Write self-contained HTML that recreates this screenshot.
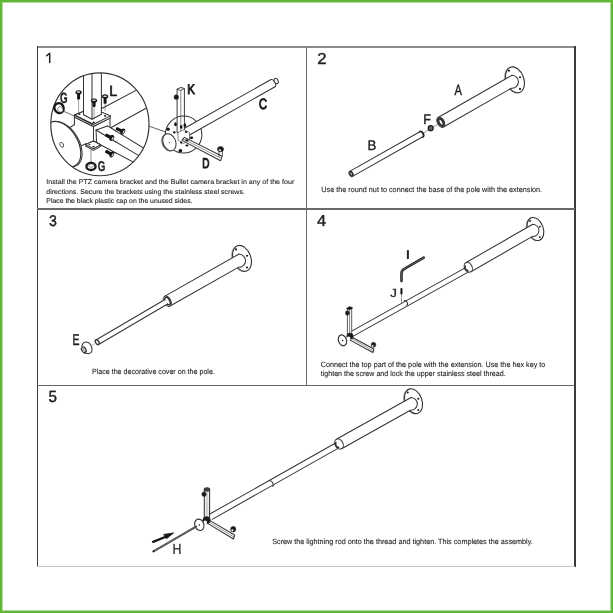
<!DOCTYPE html>
<html><head><meta charset="utf-8"><style>
html,body{margin:0;padding:0;background:#fff;}
body{width:613px;height:613px;overflow:hidden;position:relative;font-family:"Liberation Sans",sans-serif;}
#frame{position:absolute;left:0;top:0;width:613px;height:613px;box-sizing:border-box;border:2px solid #60b834;}
#frame2{position:absolute;left:2px;top:2px;width:609px;height:609px;box-sizing:border-box;border:0.5px solid #b5dca0;}
.b{position:absolute;}
svg{position:absolute;left:0;top:0;will-change:transform;text-rendering:geometricPrecision;}
text{font-family:"Liberation Sans",sans-serif;}
</style></head><body>
<div id="frame"></div><div id="frame2"></div>
<div class="b" style="left:37px;top:45.9px;width:539px;height:2.1px;background:#8c8c8c;"></div>
<div class="b" style="left:37px;top:46px;width:1.2px;height:520.8px;background:#3c3c3c;"></div>
<div class="b" style="left:574.1px;top:46px;width:2px;height:520.8px;background:#3a3a3a;"></div>
<div class="b" style="left:37px;top:566px;width:538px;height:0.9px;background:#c4c4c4;"></div>
<div class="b" style="left:37px;top:208.2px;width:538px;height:1.5px;background:#6a6a6a;"></div>
<div class="b" style="left:37px;top:384.7px;width:538px;height:1.5px;background:#666;"></div>
<div class="b" style="left:305.7px;top:47px;width:1.4px;height:338.5px;background:#6e6e6e;"></div>
<svg width="613" height="613" viewBox="0 0 613 613">
<path d="M422.5,133.6 L437,124.8" stroke="#777" stroke-width="0.8" fill="none" stroke-linecap="round" stroke-linejoin="round" />
<ellipse cx="514.10" cy="80.10" rx="8.80" ry="13.40" transform="rotate(-20.00 514.10 80.10)" stroke="#777" stroke-width="0.7" fill="#fff"/>
<ellipse cx="515.00" cy="79.80" rx="8.80" ry="13.40" transform="rotate(-20.00 515.00 79.80)" stroke="#333" stroke-width="1.1" fill="#fff"/>
<circle cx="509.00" cy="70.80" r="1.05" fill="#1a1a1a"/>
<circle cx="520.00" cy="77.20" r="1.05" fill="#1a1a1a"/>
<circle cx="520.00" cy="88.90" r="1.05" fill="#1a1a1a"/>
<path d="M438.07,117.53 L511.99,75.22 A6.88,6.54 3.01 0 1 511.31,88.28 L443.53,127.07 Z" fill="#fff" stroke="none"/>
<path d="M438.07,117.53 L511.99,75.22 A6.88,6.54 3.01 0 1 511.31,88.28 L443.53,127.07" fill="none" stroke="#333" stroke-width="1.03" stroke-linejoin="round"/>
<ellipse cx="440.80" cy="122.30" rx="3.41" ry="5.50" transform="rotate(-29.78 440.80 122.30)" stroke="#333" stroke-width="1.03" fill="#fff"/>
<ellipse cx="440.97" cy="122.20" rx="2.11" ry="3.96" transform="rotate(-29.78 440.97 122.20)" stroke="#333" stroke-width="2.4" fill="#fff"/>
<path d="M422.73,136.72 A1.80,2.90 -29.49 0 0 419.87,131.68 L349.67,171.38 L352.53,176.42 Z" fill="#fff" stroke="none"/>
<path d="M422.73,136.72 A1.80,2.90 -29.49 0 0 419.87,131.68" fill="none" stroke="#333" stroke-width="1.03"/>
<line x1="352.53" y1="176.42" x2="422.73" y2="136.72" stroke="#333" stroke-width="1.03" stroke-linecap="round"/>
<line x1="349.67" y1="171.38" x2="419.87" y2="131.68" stroke="#333" stroke-width="1.03" stroke-linecap="round"/>
<ellipse cx="351.10" cy="173.90" rx="1.80" ry="2.90" transform="rotate(-29.49 351.10 173.90)" stroke="#333" stroke-width="1.03" fill="#fff"/>
<ellipse cx="351.27" cy="173.80" rx="1.11" ry="2.09" transform="rotate(-29.49 351.27 173.80)" stroke="#333" stroke-width="1.5" fill="#fff"/>
<path d="M419.6,131.6 A1.8,2.9 -29.5 0 1 423.1,136.9" stroke="#222" stroke-width="1.6" fill="none" stroke-linecap="round" stroke-linejoin="round" />
<ellipse cx="430.70" cy="128.20" rx="2.40" ry="2.50" transform="rotate(0.00 430.70 128.20)" stroke="#1a1a1a" stroke-width="1.3" fill="#666"/>
<text transform="translate(454.45,95.03) scale(0.7368,1)" font-size="15.04" font-weight="normal" fill="#1e1e1e" stroke="#1e1e1e" stroke-width="0.48">A</text>
<text transform="translate(423.34,124.12) scale(0.9065,1)" font-size="13.88" font-weight="normal" fill="#1e1e1e" stroke="#1e1e1e" stroke-width="0.39">F</text>
<text transform="translate(367.59,149.82) scale(0.9644,1)" font-size="13.74" font-weight="normal" fill="#1e1e1e" stroke="#1e1e1e" stroke-width="0.36">B</text>
<ellipse cx="241.10" cy="258.70" rx="8.80" ry="13.40" transform="rotate(-20.00 241.10 258.70)" stroke="#777" stroke-width="0.7" fill="#fff"/>
<ellipse cx="242.00" cy="258.40" rx="8.80" ry="13.40" transform="rotate(-20.00 242.00 258.40)" stroke="#333" stroke-width="1.1" fill="#fff"/>
<circle cx="236.00" cy="249.40" r="1.05" fill="#1a1a1a"/>
<circle cx="247.00" cy="255.80" r="1.05" fill="#1a1a1a"/>
<circle cx="247.00" cy="267.50" r="1.05" fill="#1a1a1a"/>
<path d="M164.54,296.33 L239.00,254.06 A7.00,6.65 3.02 0 1 238.30,267.34 L170.06,306.07 Z" fill="#fff" stroke="none"/>
<path d="M164.54,296.33 L239.00,254.06 A7.00,6.65 3.02 0 1 238.30,267.34 L170.06,306.07" fill="none" stroke="#333" stroke-width="1.03" stroke-linejoin="round"/>
<ellipse cx="167.30" cy="301.20" rx="3.47" ry="5.60" transform="rotate(-29.58 167.30 301.20)" stroke="#333" stroke-width="1.03" fill="#fff"/>
<ellipse cx="167.47" cy="301.10" rx="2.15" ry="4.03" transform="rotate(-29.58 167.47 301.10)" stroke="#333" stroke-width="1.5" fill="#fff"/>
<path d="M98.56,344.44 L167.61,304.04 L164.99,299.56 L95.94,339.96 Z" stroke="none" stroke-width="0.0" fill="#fff" stroke-linejoin="round"/>
<line x1="98.56" y1="344.44" x2="167.61" y2="304.04" stroke="#333" stroke-width="1.03" stroke-linecap="round"/>
<line x1="95.94" y1="339.96" x2="164.99" y2="299.56" stroke="#333" stroke-width="1.03" stroke-linecap="round"/>
<ellipse cx="97.25" cy="342.20" rx="1.61" ry="2.60" transform="rotate(-30.33 97.25 342.20)" stroke="#333" stroke-width="1.4" fill="#fff"/>
<path d="M82.2,347.2 C81.6,345.4 82.6,342.4 85.8,342.0 C89.4,341.9 91.9,345.6 92.0,349.4 C92.0,352.2 90.4,353.8 87.6,353.6 C85.8,353.5 84.4,353.1 83.6,352.8" stroke="#333" stroke-width="1.03" fill="#fff" stroke-linecap="round" stroke-linejoin="round" />
<ellipse cx="83.80" cy="349.70" rx="2.10" ry="3.00" transform="rotate(-30.00 83.80 349.70)" stroke="#222" stroke-width="1.1" fill="#fff"/>
<ellipse cx="84.20" cy="349.60" rx="1.00" ry="1.70" transform="rotate(-30.00 84.20 349.60)" stroke="#444" stroke-width="0.6" fill="#fff"/>
<line x1="91.50" y1="345.60" x2="95.50" y2="343.40" stroke="#888" stroke-width="0.5" stroke-linecap="round"/>
<text transform="translate(72.39,345.15) scale(0.6699,1)" font-size="15.70" font-weight="normal" fill="#1e1e1e" stroke="#1e1e1e" stroke-width="0.45">E</text>
<path d="M353.77,335.87 L468.57,271.87 L466.03,267.33 L351.23,331.33 Z" stroke="none" stroke-width="0.0" fill="#fff" stroke-linejoin="round"/>
<line x1="353.77" y1="335.87" x2="468.57" y2="271.87" stroke="#333" stroke-width="1.03" stroke-linecap="round"/>
<line x1="351.23" y1="331.33" x2="466.03" y2="267.33" stroke="#333" stroke-width="1.03" stroke-linecap="round"/>
<ellipse cx="534.60" cy="229.30" rx="7.83" ry="11.93" transform="rotate(-20.00 534.60 229.30)" stroke="#777" stroke-width="0.7" fill="#fff"/>
<ellipse cx="535.40" cy="229.00" rx="7.83" ry="11.93" transform="rotate(-20.00 535.40 229.00)" stroke="#333" stroke-width="1.1" fill="#fff"/>
<circle cx="530.06" cy="220.99" r="0.93" fill="#1a1a1a"/>
<circle cx="539.85" cy="226.69" r="0.93" fill="#1a1a1a"/>
<circle cx="539.85" cy="237.10" r="0.93" fill="#1a1a1a"/>
<path d="M465.71,262.79 L532.78,224.21 A6.50,6.19 3.01 0 1 532.12,236.59 L470.89,271.81 Z" fill="#fff" stroke="none"/>
<path d="M465.71,262.79 L532.78,224.21 A6.50,6.19 3.01 0 1 532.12,236.59 L470.89,271.81" fill="none" stroke="#333" stroke-width="1.03" stroke-linejoin="round"/>
<ellipse cx="468.30" cy="267.30" rx="3.74" ry="5.20" transform="rotate(-29.91 468.30 267.30)" stroke="#333" stroke-width="1.03" fill="#fff"/>
<path d="M465.76,265.76 A1.95,2.60 -29.91 0 0 468.35,270.27" fill="none" stroke="#333" stroke-width="1.7"/>
<path d="M404.2,300.6 A1.6,2.6 -29 0 1 406.8,305.2" stroke="#333" stroke-width="1.03" fill="none" stroke-linecap="round" stroke-linejoin="round" />
<line x1="401.50" y1="294.40" x2="401.50" y2="303.40" stroke="#555" stroke-width="0.6" stroke-linecap="round"/>
<rect x="400.4" y="288" width="2.1" height="6.4" rx="0.9" fill="#1a1a1a"/>
<path d="M401.5,281.1 L401.5,273.4 Q401.5,270.2 404.8,268.6 L423.7,257.7" stroke="#1f1f1f" stroke-width="2.6" fill="none" stroke-linecap="round" stroke-linejoin="round" />
<path d="M401.5,281.1 L401.5,273.4 Q401.5,270.2 404.8,268.6 L423.7,257.7" stroke="#555" stroke-width="1.15" fill="none" stroke-linecap="round" stroke-linejoin="round" />
<text transform="translate(405.17,259.15) scale(1.5263,1)" font-size="12.65" font-weight="normal" fill="#1e1e1e" stroke="#1e1e1e" stroke-width="0.2">I</text>
<text transform="translate(390.27,297.21) scale(1.1376,1)" font-size="11.68" font-weight="normal" fill="#1e1e1e" stroke="#1e1e1e" stroke-width="0.31">J</text>
<path d="M347.40,308.60 L349.60,307.20 L351.70,307.80 L351.70,334.00 L347.40,334.00 Z" stroke="#333" stroke-width="0.8" fill="#fff" stroke-linejoin="round"/>
<line x1="349.60" y1="308.60" x2="349.60" y2="334.00" stroke="#333" stroke-width="0.6" stroke-linecap="round"/>
<path d="M347.1,308.6 L349.6,307.2 L352,307.8 L349.6,309.3 Z" stroke="#1a1a1a" stroke-width="1.4" fill="#1a1a1a" stroke-linecap="round" stroke-linejoin="round" />
<ellipse cx="347.40" cy="313.00" rx="2.00" ry="2.20" transform="rotate(0.00 347.40 313.00)" stroke="#333" stroke-width="0.6" fill="#1a1a1a"/>
<path d="M349.80,336.00 L373.90,349.00 L372.90,352.50 L349.20,339.60 Z" stroke="#333" stroke-width="1.03" fill="#fff" stroke-linejoin="round"/>
<line x1="350.00" y1="337.80" x2="373.40" y2="350.80" stroke="#333" stroke-width="0.5" stroke-linecap="round"/>
<ellipse cx="373.50" cy="344.80" rx="2.30" ry="2.50" transform="rotate(0.00 373.50 344.80)" stroke="#333" stroke-width="0.7" fill="#1a1a1a"/>
<ellipse cx="372.80" cy="345.90" rx="0.90" ry="0.90" transform="rotate(0.00 372.80 345.90)" stroke="none" stroke-width="0.0" fill="#fff"/>
<ellipse cx="350.00" cy="336.20" rx="3.30" ry="3.20" transform="rotate(0.00 350.00 336.20)" stroke="#333" stroke-width="0.5" fill="#1a1a1a"/>
<ellipse cx="348.60" cy="338.40" rx="1.80" ry="2.00" transform="rotate(0.00 348.60 338.40)" stroke="none" stroke-width="0.0" fill="#fff"/>
<ellipse cx="342.50" cy="340.30" rx="4.00" ry="5.50" transform="rotate(-20.00 342.50 340.30)" stroke="#333" stroke-width="1.15" fill="#fff"/>
<circle cx="342.6" cy="340.5" r="0.75" fill="#1a1a1a"/>
<path d="M212.22,519.33 L338.42,448.13 L335.58,443.07 L209.38,514.27 Z" stroke="none" stroke-width="0.0" fill="#fff" stroke-linejoin="round"/>
<line x1="212.22" y1="519.33" x2="338.42" y2="448.13" stroke="#333" stroke-width="1.03" stroke-linecap="round"/>
<line x1="209.38" y1="514.27" x2="335.58" y2="443.07" stroke="#333" stroke-width="1.03" stroke-linecap="round"/>
<ellipse cx="412.64" cy="401.50" rx="8.45" ry="12.86" transform="rotate(-20.00 412.64 401.50)" stroke="#777" stroke-width="0.7" fill="#fff"/>
<ellipse cx="413.50" cy="401.20" rx="8.45" ry="12.86" transform="rotate(-20.00 413.50 401.20)" stroke="#333" stroke-width="1.1" fill="#fff"/>
<circle cx="407.74" cy="392.56" r="1.01" fill="#1a1a1a"/>
<circle cx="418.30" cy="398.70" r="1.01" fill="#1a1a1a"/>
<circle cx="418.30" cy="409.94" r="1.01" fill="#1a1a1a"/>
<path d="M336.36,439.29 L411.04,397.47 A6.75,6.39 3.03 0 1 410.36,410.23 L341.64,448.71 Z" fill="#fff" stroke="none"/>
<path d="M336.36,439.29 L411.04,397.47 A6.75,6.39 3.03 0 1 410.36,410.23 L341.64,448.71" fill="none" stroke="#333" stroke-width="1.03" stroke-linejoin="round"/>
<ellipse cx="339.00" cy="444.00" rx="3.89" ry="5.40" transform="rotate(-29.25 339.00 444.00)" stroke="#333" stroke-width="1.03" fill="#fff"/>
<path d="M336.39,442.14 A2.17,2.90 -29.25 0 0 339.22,447.20" fill="none" stroke="#333" stroke-width="1.7"/>
<path d="M269.9,480.9 A1.6,2.9 -29 0 1 272.6,486.3" stroke="#333" stroke-width="1.03" fill="none" stroke-linecap="round" stroke-linejoin="round" />
<path d="M204.30,489.50 L209.60,489.50 L209.60,518.00 L204.30,518.00 Z" stroke="#333" stroke-width="1.03" fill="#ececec" stroke-linejoin="round"/>
<line x1="207.00" y1="490.00" x2="207.00" y2="518.00" stroke="#888" stroke-width="0.5" stroke-linecap="round"/>
<ellipse cx="207.00" cy="489.40" rx="2.65" ry="1.50" transform="rotate(0.00 207.00 489.40)" stroke="#333" stroke-width="1.15" fill="#444"/>
<ellipse cx="204.00" cy="494.20" rx="2.20" ry="2.30" transform="rotate(0.00 204.00 494.20)" stroke="#333" stroke-width="0.6" fill="#1a1a1a"/>
<path d="M208.40,519.60 L234.60,535.00 L233.50,539.00 L207.60,523.40 Z" stroke="#333" stroke-width="1.03" fill="#fff" stroke-linejoin="round"/>
<line x1="208.20" y1="521.60" x2="234.00" y2="537.00" stroke="#333" stroke-width="0.5" stroke-linecap="round"/>
<ellipse cx="233.20" cy="529.20" rx="2.60" ry="2.80" transform="rotate(0.00 233.20 529.20)" stroke="#333" stroke-width="0.7" fill="#1a1a1a"/>
<ellipse cx="232.40" cy="530.30" rx="1.10" ry="1.10" transform="rotate(0.00 232.40 530.30)" stroke="none" stroke-width="0.0" fill="#fff"/>
<ellipse cx="206.60" cy="520.20" rx="3.80" ry="3.60" transform="rotate(0.00 206.60 520.20)" stroke="#333" stroke-width="0.5" fill="#1a1a1a"/>
<ellipse cx="205.20" cy="522.60" rx="1.80" ry="2.00" transform="rotate(0.00 205.20 522.60)" stroke="none" stroke-width="0.0" fill="#fff"/>
<line x1="153.50" y1="551.30" x2="196.00" y2="526.60" stroke="#4a4a4a" stroke-width="2.1" stroke-linecap="round"/>
<line x1="154" y1="551" x2="195" y2="527" stroke="#9a9a9a" stroke-width="0.8" stroke-dasharray="0.6 0.9"/>
<circle cx="153.6" cy="551.2" r="1.0" fill="#222"/>
<ellipse cx="199.30" cy="524.80" rx="4.50" ry="5.80" transform="rotate(-20.00 199.30 524.80)" stroke="#333" stroke-width="1.15" fill="none"/>
<circle cx="199.3" cy="525" r="0.75" fill="#1a1a1a"/>
<line x1="153.10" y1="541.90" x2="167.00" y2="536.20" stroke="#161616" stroke-width="2.3" stroke-linecap="round"/>
<path d="M164.0,534.4 L173.7,532.9 L166.6,538.6 Z" stroke="#161616" stroke-width="0.8" fill="#161616" stroke-linecap="round" stroke-linejoin="round" />
<text transform="translate(172.39,553.50) scale(0.8414,1)" font-size="14.68" font-weight="normal" fill="#1e1e1e" stroke="#1e1e1e" stroke-width="0.24">H</text>
<ellipse cx="183.60" cy="134.60" rx="18.30" ry="18.50" transform="rotate(0.00 183.60 134.60)" stroke="#333" stroke-width="1.03" fill="none"/>
<line x1="149.30" y1="126.30" x2="165.70" y2="132.00" stroke="#333" stroke-width="0.8" stroke-linecap="round"/>
<path d="M274.64,87.02 A2.57,4.15 -29.38 0 0 270.56,79.78 L184.96,127.98 L189.04,135.22 Z" fill="#fff" stroke="none"/>
<path d="M274.64,87.02 A2.57,4.15 -29.38 0 0 270.56,79.78" fill="none" stroke="#333" stroke-width="1.03"/>
<line x1="189.04" y1="135.22" x2="274.64" y2="87.02" stroke="#333" stroke-width="1.03" stroke-linecap="round"/>
<line x1="184.96" y1="127.98" x2="270.56" y2="79.78" stroke="#333" stroke-width="1.03" stroke-linecap="round"/>
<ellipse cx="276.20" cy="81.00" rx="1.90" ry="2.90" transform="rotate(-25.00 276.20 81.00)" stroke="#333" stroke-width="1.03" fill="#fff"/>
<path d="M177.10,89.20 L180.80,87.60 L184.40,88.60 L184.40,132.80 L177.10,132.80 Z" stroke="#333" stroke-width="0.98" fill="none" stroke-linejoin="round"/>
<line x1="180.80" y1="89.40" x2="180.80" y2="132.50" stroke="#333" stroke-width="0.6" stroke-linecap="round"/>
<path d="M177.1,89.2 L180.8,87.6 L184.4,88.6 L180.8,90.3 Z" stroke="#333" stroke-width="0.8" fill="#fff" stroke-linecap="round" stroke-linejoin="round" />
<ellipse cx="176.30" cy="97.20" rx="2.30" ry="2.40" transform="rotate(0.00 176.30 97.20)" stroke="#333" stroke-width="0.6" fill="#1a1a1a"/>
<path d="M178.00,132.50 L184.00,129.60 L189.50,132.60 L189.50,140.00 L183.50,143.50 L178.00,140.20 Z" stroke="#333" stroke-width="0.6" fill="#fff" stroke-linejoin="round"/>
<path d="M184.40,137.40 L222.20,156.20 L220.60,160.80 L182.00,140.40 Z" stroke="#333" stroke-width="1.03" fill="#fff" stroke-linejoin="round"/>
<line x1="183.20" y1="138.90" x2="221.40" y2="158.50" stroke="#333" stroke-width="0.5" stroke-linecap="round"/>
<ellipse cx="220.50" cy="149.20" rx="3.00" ry="2.60" transform="rotate(0.00 220.50 149.20)" stroke="#333" stroke-width="0.8" fill="#1a1a1a"/>
<ellipse cx="219.80" cy="150.20" rx="1.20" ry="1.00" transform="rotate(0.00 219.80 150.20)" stroke="none" stroke-width="0.0" fill="#fff"/>
<line x1="219.00" y1="150.50" x2="219.00" y2="156.60" stroke="#333" stroke-width="0.8" stroke-linecap="round"/>
<line x1="222.40" y1="150.00" x2="222.40" y2="156.00" stroke="#333" stroke-width="0.8" stroke-linecap="round"/>
<ellipse cx="168.50" cy="142.50" rx="6.30" ry="8.80" transform="rotate(-22.00 168.50 142.50)" stroke="#333" stroke-width="0.8" fill="#fff"/>
<ellipse cx="169.40" cy="142.20" rx="6.30" ry="8.80" transform="rotate(-22.00 169.40 142.20)" stroke="#333" stroke-width="1.03" fill="#fff"/>
<circle cx="169.4" cy="142.6" r="0.6" fill="#333"/>
<ellipse cx="175.5" cy="124.2" rx="1.3" ry="2.0" fill="#151515"/>
<ellipse cx="181.2" cy="126.9" rx="1.3" ry="1.9" fill="#151515"/>
<ellipse cx="184.9" cy="125.2" rx="1.3" ry="1.9" fill="#151515"/>
<ellipse cx="168.1" cy="129.2" rx="1.7" ry="1.6" fill="#151515"/>
<ellipse cx="174.3" cy="132.4" rx="1.4" ry="1.1" fill="#151515"/>
<ellipse cx="186.1" cy="132.0" rx="1.3" ry="1.1" fill="#151515"/>
<ellipse cx="191.4" cy="137.7" rx="1.8" ry="1.2" fill="#151515"/>
<ellipse cx="186.9" cy="140.4" rx="1.6" ry="1.1" fill="#151515"/>
<ellipse cx="186.9" cy="145.5" rx="1.6" ry="1.1" fill="#151515"/>
<ellipse cx="181.2" cy="142.6" rx="1.2" ry="1.1" fill="#151515"/>
<ellipse cx="180.4" cy="150.7" rx="1.9" ry="1.6" fill="#151515"/>
<text transform="translate(187.31,93.65) scale(0.8244,1)" font-size="13.95" font-weight="normal" fill="#1e1e1e" stroke="#1e1e1e" stroke-width="0.98">K</text>
<text transform="translate(259.09,109.20) scale(0.7314,1)" font-size="15.11" font-weight="normal" fill="#1e1e1e" stroke="#1e1e1e" stroke-width="1.1">C</text>
<text transform="translate(202.13,167.75) scale(0.7139,1)" font-size="13.95" font-weight="normal" fill="#1e1e1e" stroke="#1e1e1e" stroke-width="1.13">D</text>
<clipPath id="bc"><ellipse cx="99.9" cy="124.3" rx="49.1" ry="51.4"/></clipPath>
<g clip-path="url(#bc)">
<path d="M101.80,108.50 L160.00,77.65 L160.00,100.66 L111.20,127.50 Z" stroke="none" stroke-width="0.0" fill="#fff" stroke-linejoin="round"/>
<line x1="101.80" y1="108.50" x2="160.00" y2="77.65" stroke="#333" stroke-width="1.03" stroke-linecap="round"/>
<line x1="111.20" y1="127.50" x2="160.00" y2="100.66" stroke="#333" stroke-width="1.03" stroke-linecap="round"/>
<path d="M107.50,125.90 L160.00,158.19 L160.00,176.25 L96.50,142.60 L96.10,130.00 Z" stroke="none" stroke-width="0.0" fill="#fff" stroke-linejoin="round"/>
<line x1="107.50" y1="125.90" x2="160.00" y2="158.19" stroke="#333" stroke-width="1.03" stroke-linecap="round"/>
<line x1="96.10" y1="130.00" x2="160.00" y2="168.34" stroke="#333" stroke-width="1.03" stroke-linecap="round"/>
<line x1="96.50" y1="142.60" x2="160.00" y2="176.25" stroke="#333" stroke-width="1.03" stroke-linecap="round"/>
<path d="M93.50,126.50 L110.00,118.00 L110.00,139.50 L93.50,148.00 Z" stroke="#333" stroke-width="1.03" fill="#fff" stroke-linejoin="round"/>
<path d="M74.40,117.00 L93.50,126.50 L93.50,148.00 L74.40,138.50 Z" stroke="#333" stroke-width="1.03" fill="#fff" stroke-linejoin="round"/>
<path d="M107.50,125.90 L115.00,130.50 L115.00,152.41 L96.50,142.60 L96.10,130.00 Z" stroke="none" stroke-width="0.0" fill="#fff" stroke-linejoin="round"/>
<line x1="107.50" y1="125.90" x2="116.00" y2="131.13" stroke="#333" stroke-width="1.03" stroke-linecap="round"/>
<line x1="96.10" y1="130.00" x2="116.00" y2="141.94" stroke="#333" stroke-width="1.03" stroke-linecap="round"/>
<line x1="96.50" y1="142.60" x2="116.00" y2="152.94" stroke="#333" stroke-width="1.03" stroke-linecap="round"/>
<line x1="96.10" y1="130.00" x2="107.50" y2="125.90" stroke="#333" stroke-width="1.03" stroke-linecap="round"/>
<line x1="96.10" y1="130.00" x2="96.50" y2="142.60" stroke="#333" stroke-width="1.03" stroke-linecap="round"/>
<path d="M74.50,115.10 L74.50,117.10 L93.20,126.50 L110.40,117.90 L110.40,115.90 L92.00,108.10 Z" stroke="#333" stroke-width="1.03" fill="#fff" stroke-linejoin="round"/>
<path d="M74.50,115.10 L93.20,124.50 L110.40,115.90 L92.00,108.10 Z" stroke="#333" stroke-width="1.03" fill="#fff" stroke-linejoin="round"/>
<line x1="74.50" y1="115.10" x2="93.20" y2="124.50" stroke="#333" stroke-width="1.5" stroke-linecap="round"/>
<ellipse cx="79.4" cy="114.3" rx="1.2" ry="0.8" fill="#1a1a1a"/>
<ellipse cx="93.7" cy="122.4" rx="1.2" ry="0.8" fill="#1a1a1a"/>
<ellipse cx="105.1" cy="115.9" rx="1.2" ry="0.8" fill="#1a1a1a"/>
<path d="M83.50,60.00 L101.40,60.00 L101.40,114.30 L92.00,119.20 L83.50,114.70 Z" stroke="#333" stroke-width="1.03" fill="#fff" stroke-linejoin="round"/>
<line x1="92.00" y1="60.00" x2="92.00" y2="119.20" stroke="#333" stroke-width="1.03" stroke-linecap="round"/>
<path d="M85.70,144.40 L85.70,146.00 L93.50,150.40 L100.60,146.40 L100.60,144.80 L93.50,141.00 Z" stroke="#333" stroke-width="1.03" fill="#fff" stroke-linejoin="round"/>
<path d="M85.70,144.40 L93.50,148.80 L100.60,144.80 L93.50,141.00 Z" stroke="#333" stroke-width="1.03" fill="#fff" stroke-linejoin="round"/>
<ellipse cx="93.6" cy="146.6" rx="1.1" ry="0.8" fill="#1a1a1a"/>
<ellipse cx="89.5" cy="144.4" rx="0.9" ry="0.7" fill="#1a1a1a"/>
<path d="M69.50,127.60 L77.40,123.40 L74.40,124.50 L86.20,143.60 L79.80,146.60 Z" stroke="none" stroke-width="0.0" fill="#fff" stroke-linejoin="round"/>
<path d="M69,128 L74.4,124.6 L74.4,123.8 M79.8,146.5 L86.4,143.4" stroke="#333" stroke-width="1.03" fill="none"/>
<ellipse cx="64.00" cy="144.30" rx="15.06" ry="24.80" transform="rotate(-30.80 64.00 144.30)" stroke="#333" stroke-width="1.03" fill="#fff"/>
<ellipse cx="62.70" cy="144.10" rx="15.06" ry="24.80" transform="rotate(-30.80 62.70 144.10)" stroke="#333" stroke-width="1.15" fill="#fff"/>
<ellipse cx="61.70" cy="144.80" rx="1.70" ry="2.60" transform="rotate(-28.00 61.70 144.80)" stroke="#333" stroke-width="0.8" fill="none"/>
<line x1="63.70" y1="111.30" x2="74.20" y2="116.00" stroke="#333" stroke-width="0.7" stroke-linecap="round"/>
<line x1="91.00" y1="149.50" x2="91.00" y2="163.40" stroke="#444" stroke-width="0.6" stroke-linecap="round"/>
<line x1="78.60" y1="99.60" x2="78.60" y2="112.60" stroke="#555" stroke-width="0.55" stroke-linecap="round"/>
<rect x="77.10" y="92.40" width="3.0" height="7.20" rx="0.8" fill="#151515"/>
<ellipse cx="78.60" cy="92.40" rx="2.90" ry="1.90" transform="rotate(0.00 78.60 92.40)" stroke="#151515" stroke-width="0.6" fill="#151515"/>
<ellipse cx="78.50" cy="92.10" rx="1.90" ry="0.80" transform="rotate(0.00 78.50 92.10)" stroke="none" stroke-width="0.0" fill="#e8e8e8"/>
<line x1="94.10" y1="106.90" x2="94.10" y2="118.90" stroke="#555" stroke-width="0.55" stroke-linecap="round"/>
<rect x="92.60" y="100.60" width="3.0" height="6.30" rx="0.8" fill="#151515"/>
<ellipse cx="94.10" cy="100.60" rx="2.90" ry="1.90" transform="rotate(0.00 94.10 100.60)" stroke="#151515" stroke-width="0.6" fill="#151515"/>
<ellipse cx="94.00" cy="100.30" rx="1.90" ry="0.80" transform="rotate(0.00 94.00 100.30)" stroke="none" stroke-width="0.0" fill="#e8e8e8"/>
<line x1="105.10" y1="103.70" x2="105.10" y2="110.70" stroke="#555" stroke-width="0.55" stroke-linecap="round"/>
<rect x="103.60" y="96.50" width="3.0" height="7.20" rx="0.8" fill="#151515"/>
<ellipse cx="105.10" cy="96.50" rx="2.90" ry="1.90" transform="rotate(0.00 105.10 96.50)" stroke="#151515" stroke-width="0.6" fill="#151515"/>
<ellipse cx="105.00" cy="96.20" rx="1.90" ry="0.80" transform="rotate(0.00 105.00 96.20)" stroke="none" stroke-width="0.0" fill="#e8e8e8"/>
<g transform="translate(116.00,128.20) rotate(26.57)"><rect x="0" y="-1.6" width="7.60" height="3.2" rx="1" fill="#151515"/><ellipse cx="7.60" cy="0" rx="2.2" ry="3.1" fill="#151515"/><ellipse cx="8.50" cy="0.1" rx="0.6" ry="1.9" fill="#e8e8e8"/></g>
<g transform="translate(105.40,134.60) rotate(27.28)"><rect x="0" y="-1.6" width="7.20" height="3.2" rx="1" fill="#151515"/><ellipse cx="7.20" cy="0" rx="2.2" ry="3.1" fill="#151515"/><ellipse cx="8.10" cy="0.1" rx="0.6" ry="1.9" fill="#e8e8e8"/></g>
<g transform="translate(105.40,151.00) rotate(27.98)"><rect x="0" y="-1.6" width="7.25" height="3.2" rx="1" fill="#151515"/><ellipse cx="7.25" cy="0" rx="2.2" ry="3.1" fill="#151515"/><ellipse cx="8.15" cy="0.1" rx="0.6" ry="1.9" fill="#e8e8e8"/></g>
</g>
<ellipse cx="99.90" cy="124.30" rx="49.10" ry="51.40" transform="rotate(0.00 99.90 124.30)" stroke="#333" stroke-width="1.15" fill="none"/>
<ellipse cx="59.10" cy="108.10" rx="4.50" ry="5.00" transform="rotate(-30.00 59.10 108.10)" stroke="#151515" stroke-width="2.4" fill="#fff"/>
<ellipse cx="60.30" cy="109.40" rx="2.30" ry="2.90" transform="rotate(-30.00 60.30 109.40)" stroke="#555" stroke-width="0.6" fill="#fff"/>
<ellipse cx="91.00" cy="166.40" rx="4.60" ry="3.60" transform="rotate(0.00 91.00 166.40)" stroke="#151515" stroke-width="2.3" fill="#fff"/>
<ellipse cx="91.20" cy="165.60" rx="2.60" ry="1.60" transform="rotate(0.00 91.20 165.60)" stroke="#555" stroke-width="0.6" fill="#fff"/>
<text transform="translate(60.00,103.05) scale(0.6472,1)" font-size="15.11" font-weight="bold" fill="#1e1e1e" stroke="#1e1e1e" stroke-width="0.31">G</text>
<text transform="translate(109.18,96.15) scale(0.9733,1)" font-size="14.68" font-weight="normal" fill="#1e1e1e" stroke="#1e1e1e" stroke-width="0.72">L</text>
<text transform="translate(97.70,170.66) scale(0.6856,1)" font-size="14.27" font-weight="bold" fill="#1e1e1e" stroke="#1e1e1e" stroke-width="0.29">G</text>
<text x="46.30" y="184.20" font-size="6.75" font-weight="normal" fill="#1e1e1e" textLength="248.00" lengthAdjust="spacingAndGlyphs" stroke="#1e1e1e" stroke-width="0.1">Install the PTZ camera bracket and the Bullet camera bracket in any of the four</text>
<text x="46.30" y="193.60" font-size="6.75" font-weight="normal" fill="#1e1e1e" textLength="198.60" lengthAdjust="spacingAndGlyphs" stroke="#1e1e1e" stroke-width="0.1">directions. Secure the brackets using the stainless steel screws.</text>
<text x="46.30" y="203.10" font-size="6.75" font-weight="normal" fill="#1e1e1e" textLength="146.20" lengthAdjust="spacingAndGlyphs" stroke="#1e1e1e" stroke-width="0.1">Place the black plastic cap on the unused sides.</text>
<text x="321.30" y="191.80" font-size="7.60" font-weight="normal" fill="#1e1e1e" textLength="220.80" lengthAdjust="spacingAndGlyphs" stroke="#1e1e1e" stroke-width="0.1">Use the round nut to connect the base of the pole with the extension.</text>
<text x="91.90" y="374.10" font-size="7.60" font-weight="normal" fill="#1e1e1e" textLength="123.00" lengthAdjust="spacingAndGlyphs" stroke="#1e1e1e" stroke-width="0.1">Place the decorative cover on the pole.</text>
<text x="320.70" y="366.80" font-size="7.60" font-weight="normal" fill="#1e1e1e" textLength="224.60" lengthAdjust="spacingAndGlyphs" stroke="#1e1e1e" stroke-width="0.1">Connect the top part of the pole with the extension. Use the hex key to</text>
<text x="320.70" y="375.70" font-size="7.60" font-weight="normal" fill="#1e1e1e" textLength="185.00" lengthAdjust="spacingAndGlyphs" stroke="#1e1e1e" stroke-width="0.1">tighten the screw and lock the upper stainless steel thread.</text>
<text x="272.20" y="544.40" font-size="7.60" font-weight="normal" fill="#1e1e1e" textLength="260.60" lengthAdjust="spacingAndGlyphs" stroke="#1e1e1e" stroke-width="0.1">Screw the lightning rod onto the thread and tighten. This completes the assembly.</text>
<path d="M46.6,55.8 L49.7,53.2 L49.7,62.6" stroke="#1e1e1e" stroke-width="1.45" fill="none" stroke-linecap="round" stroke-linejoin="round" stroke-linecap="butt"/>
<text transform="translate(317.36,63.70) scale(1.0494,1)" font-size="15.90" font-weight="normal" fill="#1e1e1e" stroke="#1e1e1e" stroke-width="0.38">2</text>
<text transform="translate(49.06,225.55) scale(0.9096,1)" font-size="15.54" font-weight="normal" fill="#1e1e1e" stroke="#1e1e1e" stroke-width="0.44">3</text>
<text transform="translate(317.02,225.70) scale(1.0396,1)" font-size="15.84" font-weight="normal" fill="#1e1e1e" stroke="#1e1e1e" stroke-width="0.38">4</text>
<text transform="translate(48.59,402.24) scale(0.9377,1)" font-size="16.19" font-weight="normal" fill="#1e1e1e" stroke="#1e1e1e" stroke-width="0.43">5</text>
</svg>
</body></html>
